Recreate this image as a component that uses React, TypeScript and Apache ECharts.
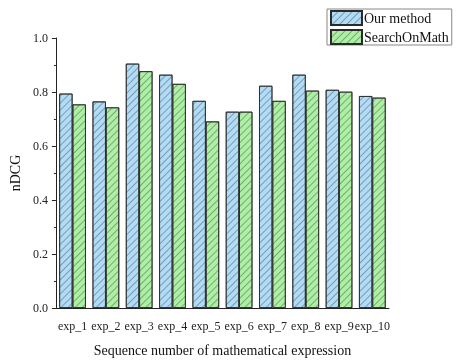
import React, { useEffect, useRef } from "react";
import * as echarts from "echarts";

const categories = ["exp_1", "exp_2", "exp_3", "exp_4", "exp_5", "exp_6", "exp_7", "exp_8", "exp_9", "exp_10"];
const ourMethod = [0.794, 0.765, 0.905, 0.864, 0.767, 0.727, 0.823, 0.864, 0.808, 0.785];
const searchOnMath = [0.754, 0.743, 0.877, 0.83, 0.691, 0.727, 0.767, 0.805, 0.801, 0.779];
const seriesNames = ["Our method", "SearchOnMath"];

const FONT = "'Liberation Serif', 'Times New Roman', serif";

const hatch = {
  symbol: "rect",
  symbolSize: 1,
  dashArrayX: [1, 0],
  dashArrayY: [1, 3.5],
  rotation: -Math.PI / 4,
  color: "rgba(40,60,80,0.4)",
};

export default function App() {
  const ref = useRef<HTMLDivElement>(null);
  useEffect(() => {
    if (!ref.current) return;
    const chart = echarts.init(ref.current, null, { renderer: "svg" });
    const barStyle = (color: string) => ({
      color,
      borderColor: "#2a2a2a",
      borderWidth: 0.8,
      decal: hatch,
    });
    chart.setOption({
      animation: false,
      textStyle: { fontFamily: FONT },
      grid: { left: 51, right: 74, top: 38, bottom: 49 },
      legend: {
        orient: "vertical",
        left: 327,
        top: 9,
        icon: "rect",
        itemWidth: 31,
        itemHeight: 14,
        itemGap: 3,
        padding: [1, 3, 0, 3],
        borderColor: "#888",
        borderWidth: 1,
        textStyle: { fontFamily: FONT, fontSize: 14, color: "#111", padding: [0, 0, 0, -3] },
        data: seriesNames,
      },
      xAxis: {
        type: "category",
        data: categories,
        name: "Sequence number of mathematical expression",
        nameLocation: "middle",
        nameGap: 35,
        nameTextStyle: { fontFamily: FONT, fontSize: 14, color: "#111" },
        axisLine: { lineStyle: { color: "#222", width: 1 } },
        axisTick: { alignWithLabel: true, length: 4, lineStyle: { color: "#222" } },
        axisLabel: { fontFamily: FONT, fontSize: 12, color: "#222", margin: 12, interval: 0 },
      },
      yAxis: {
        type: "value",
        min: 0,
        max: 1,
        interval: 0.2,
        name: "nDCG",
        nameLocation: "middle",
        nameGap: 26,
        nameTextStyle: { fontFamily: FONT, fontSize: 14, color: "#111" },
        axisLine: { show: true, lineStyle: { color: "#222", width: 1 } },
        axisTick: { show: true, length: 4, lineStyle: { color: "#222" } },
        minorTick: { show: true, splitNumber: 2, length: 2, lineStyle: { color: "#222" } },
        splitLine: { show: false },
        axisLabel: { fontFamily: FONT, fontSize: 12, color: "#222", margin: 8, formatter: (v: number) => v.toFixed(1) },
      },
      series: [
        {
          name: seriesNames[0],
          type: "bar",
          data: ourMethod,
          barGap: "0%",
          barCategoryGap: "20%",
          itemStyle: barStyle("#b2dcf6"),
        },
        {
          name: seriesNames[1],
          type: "bar",
          data: searchOnMath,
          itemStyle: barStyle("#aef0a2"),
        },
      ],
    });
    return () => chart.dispose();
  }, []);
  return <div ref={ref} style={{ position: "fixed", left: 0, top: 0, width: 463, height: 362 }} />;
}
